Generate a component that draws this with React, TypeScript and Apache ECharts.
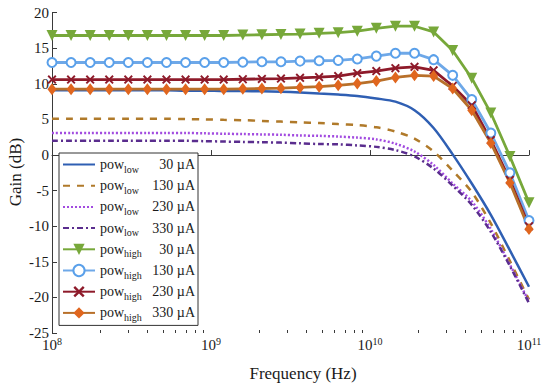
import React, { useEffect, useRef } from "react";
import * as echarts from "echarts";

const frequencies = [
  1e8, 1.318e8, 1.738e8, 2.291e8, 3.02e8, 3.981e8, 5.248e8, 6.918e8, 9.12e8,
  1.202e9, 1.585e9, 2.089e9, 2.754e9, 3.631e9, 4.786e9, 6.31e9, 8.318e9,
  1.096e10, 1.445e10, 1.905e10, 2.512e10, 3.311e10, 4.365e10, 5.754e10,
  7.586e10, 1e11,
];

const powLow30 = [9.1, 9.1, 9.1, 9.1, 9.1, 9.1, 9.1, 9.05, 9.05, 9.0, 9.0, 8.95, 8.9, 8.8, 8.65, 8.5, 8.3, 7.95, 7.5, 6.3, 3.8, 0.1, -4.0, -8.4, -13.4, -18.5];
const powLow130 = [5.1, 5.1, 5.1, 5.1, 5.1, 5.1, 5.1, 5.05, 5.0, 4.95, 4.9, 4.8, 4.7, 4.6, 4.5, 4.35, 4.2, 3.9, 3.3, 2.3, 0.5, -2.2, -5.2, -9.6, -14.9, -20.3];
const powLow230 = [3.1, 3.1, 3.1, 3.1, 3.1, 3.1, 3.1, 3.1, 3.05, 3.0, 2.95, 2.9, 2.85, 2.75, 2.7, 2.6, 2.45, 2.2, 1.6, 0.5, -1.4, -4.0, -6.5, -10.4, -15.4, -20.6];
const powLow330 = [2.0, 2.0, 2.0, 2.0, 2.0, 2.0, 2.0, 2.0, 1.95, 1.9, 1.85, 1.8, 1.75, 1.65, 1.55, 1.5, 1.35, 1.15, 0.7, -0.2, -1.9, -4.3, -7.0, -10.8, -15.6, -20.8];
const powHigh30 = [16.8, 16.8, 16.8, 16.8, 16.8, 16.8, 16.8, 16.8, 16.8, 16.8, 16.85, 16.9, 16.95, 17.0, 17.1, 17.2, 17.4, 17.8, 18.1, 18.1, 17.3, 14.7, 10.8, 5.9, -0.2, -6.7];
const powHigh130 = [13.0, 13.0, 13.0, 13.0, 13.0, 13.0, 13.0, 13.0, 13.0, 13.0, 13.05, 13.1, 13.1, 13.2, 13.25, 13.3, 13.5, 13.9, 14.3, 14.3, 13.4, 11.2, 7.8, 3.1, -2.5, -9.2];
const powHigh230 = [10.6, 10.6, 10.6, 10.6, 10.6, 10.6, 10.6, 10.6, 10.6, 10.6, 10.65, 10.7, 10.75, 10.85, 10.95, 11.1, 11.5, 11.8, 12.2, 12.4, 11.9, 9.7, 7.0, 2.1, -3.5, -10.0];
const powHigh330 = [9.25, 9.25, 9.25, 9.25, 9.25, 9.25, 9.25, 9.25, 9.25, 9.25, 9.3, 9.35, 9.4, 9.5, 9.6, 9.8, 10.05, 10.4, 10.9, 11.2, 11.1, 9.35, 6.3, 1.7, -3.9, -10.4];

const legendMode = ["low", "low", "low", "low", "high", "high", "high", "high"];
const legendCurrent = ["30 µA", "130 µA", "230 µA", "330 µA", "30 µA", "130 µA", "230 µA", "330 µA"];
const seriesKeys = ["low30", "low130", "low230", "low330", "high30", "high130", "high230", "high330"];

const xTitle = "Frequency (Hz)";
const yTitle = "Gain (dB)";

const majorTicks = [1e8, 1e9, 1e10, 1e11];
const minorTicks = [
  2e8, 3e8, 4e8, 5e8, 6e8, 7e8, 8e8, 9e8,
  2e9, 3e9, 4e9, 5e9, 6e9, 7e9, 8e9, 9e9,
  2e10, 3e10, 4e10, 5e10, 6e10, 7e10, 8e10, 9e10,
];

const FONT = "Liberation Serif";
const TEXT = "#1a1a1a";
const AXIS = "#3a3a3a";

const xMarker =
  "path://M0,1.5 L1.5,0 L5,3.5 L8.5,0 L10,1.5 L6.5,5 L10,8.5 L8.5,10 L5,6.5 L1.5,10 L0,8.5 L3.5,5 Z";

function pairs(values: number[]) {
  return frequencies.map((f, i) => [f, values[i]]);
}

export default function App() {
  const ref = useRef<HTMLDivElement>(null);

  useEffect(() => {
    if (!ref.current) return;
    const chart = echarts.init(ref.current, null, { renderer: "svg" });

    const lowStyle = (color: string, type: any) => ({
      type: "line",
      symbol: "none",
      smooth: 0.3,
      lineStyle: { color, width: 2.5, type },
      itemStyle: { color },
      z: 2,
    });
    const highStyle = (
      color: string,
      markerColor: string,
      symbol: string,
      size: any,
      extra: any = {}
    ) => ({
      type: "line",
      symbol,
      symbolSize: size,
      showSymbol: true,
      lineStyle: { color, width: 2.8 },
      itemStyle: { color: markerColor, ...(extra.itemStyle || {}) },
      symbolRotate: extra.symbolRotate || 0,
      z: 3,
    });

    const series: any[] = [
      { ...lowStyle("#2f5fb3", "solid"), name: seriesKeys[0], data: pairs(powLow30) },
      { ...lowStyle("#b07a2a", [7, 7]), name: seriesKeys[1], data: pairs(powLow130) },
      { ...lowStyle("#a24be0", [2, 2]), name: seriesKeys[2], data: pairs(powLow230) },
      { ...lowStyle("#5a2d8e", [6, 3, 2, 3]), name: seriesKeys[3], data: pairs(powLow330) },
      {
        ...highStyle("#77a83a", "#77a83a", "triangle", 11, { symbolRotate: 180 }),
        name: seriesKeys[4],
        data: pairs(powHigh30),
      },
      {
        ...highStyle("#6ea8e8", "#5aa0ea", "emptyCircle", 9, {
          itemStyle: { borderWidth: 2, borderColor: "#5aa0ea" },
        }),
        name: seriesKeys[5],
        data: pairs(powHigh130),
      },
      {
        ...highStyle("#8e1a2a", "#8e1a2a", xMarker, 9),
        name: seriesKeys[6],
        data: pairs(powHigh230),
      },
      {
        ...highStyle("#b8702a", "#e0661e", "diamond", [9, 12]),
        name: seriesKeys[7],
        data: pairs(powHigh330),
      },
    ];

    const legendData = seriesKeys.map((k, i) =>
      i < 4 ? { name: k, itemStyle: { opacity: 0 } } : { name: k }
    );

    const option: any = {
      animation: false,
      grid: {
        left: 52,
        right: 21,
        top: 12.7,
        bottom: 59,
        containLabel: false,
      },
      graphic: [
        {
          type: "text",
          x: 303,
          y: 373,
          silent: true,
          style: {
            text: xTitle,
            fontFamily: FONT,
            fontSize: 17,
            fill: TEXT,
            align: "center",
            verticalAlign: "middle",
          },
        },
        {
          type: "text",
          x: 15,
          y: 172,
          rotation: Math.PI / 2,
          silent: true,
          style: {
            text: yTitle,
            fontFamily: FONT,
            fontSize: 17,
            fill: TEXT,
            align: "center",
            verticalAlign: "middle",
          },
        },
      ],
      legend: {
        orient: "vertical",
        left: 59,
        top: 153,
        padding: [2, 3, 3, 3],
        itemGap: 2.2,
        itemWidth: 32,
        itemHeight: 14,
        backgroundColor: "#ffffff",
        borderColor: "#333333",
        borderWidth: 1,
        borderRadius: 0,
        data: legendData,
        formatter: (name: string) => {
          const i = seriesKeys.indexOf(name);
          return `{p|pow}{s|${legendMode[i]}}{v|${legendCurrent[i]}}`;
        },
        textStyle: {
          fontFamily: FONT,
          fontSize: 14,
          color: TEXT,
          rich: {
            p: { fontFamily: FONT, fontSize: 14, lineHeight: 18, width: 24, color: TEXT },
            s: {
              fontFamily: FONT,
              fontSize: 10,
              lineHeight: 12,
              padding: [9, 0, 0, 0],
              width: 20,
              color: TEXT,
            },
            v: {
              fontFamily: FONT,
              fontSize: 14,
              lineHeight: 18,
              width: 51,
              align: "right",
              color: TEXT,
            },
          },
        },
      },
      xAxis: [
        {
          type: "log",
          logBase: 10,
          min: 1e8,
          max: 1e11,
          axisLine: { show: true, lineStyle: { color: AXIS, width: 1 } },
          axisTick: {
            show: true,
            inside: true,
            length: 5,
            customValues: majorTicks,
            lineStyle: { color: AXIS },
          },
          splitLine: { show: false },
          minorTick: { show: false },
          axisLabel: {
            customValues: majorTicks,
            margin: 4,
            fontFamily: FONT,
            formatter: (v: number) => `{b|10}{e|${Math.round(Math.log10(v))}}`,
            rich: {
              b: { fontFamily: FONT, fontSize: 15, lineHeight: 16, color: TEXT },
              e: {
                fontFamily: FONT,
                fontSize: 10,
                lineHeight: 12,
                padding: [0, 0, 8, 0],
                color: TEXT,
              },
            },
          },
        },
        {
          type: "log",
          logBase: 10,
          min: 1e8,
          max: 1e11,
          position: "bottom",
          axisLine: { show: false },
          axisLabel: { show: false },
          splitLine: { show: false },
          axisTick: {
            show: true,
            inside: true,
            length: 3,
            customValues: minorTicks,
            lineStyle: { color: AXIS },
          },
        },
      ],
      yAxis: {
        type: "value",
        min: -25,
        max: 20,
        interval: 5,
        axisLine: { show: true, lineStyle: { color: AXIS, width: 1 } },
        axisTick: { show: true, inside: true, length: 5, lineStyle: { color: AXIS } },
        splitLine: { show: false },
        axisLabel: {
          fontFamily: FONT,
          fontSize: 15,
          color: TEXT,
          margin: 3,
        },
      },
      series,
    };

    chart.setOption(option);
    return () => chart.dispose();
  }, []);

  return (
    <div
      ref={ref}
      style={{ position: "absolute", left: 0, top: 0, width: 550, height: 392 }}
    />
  );
}
